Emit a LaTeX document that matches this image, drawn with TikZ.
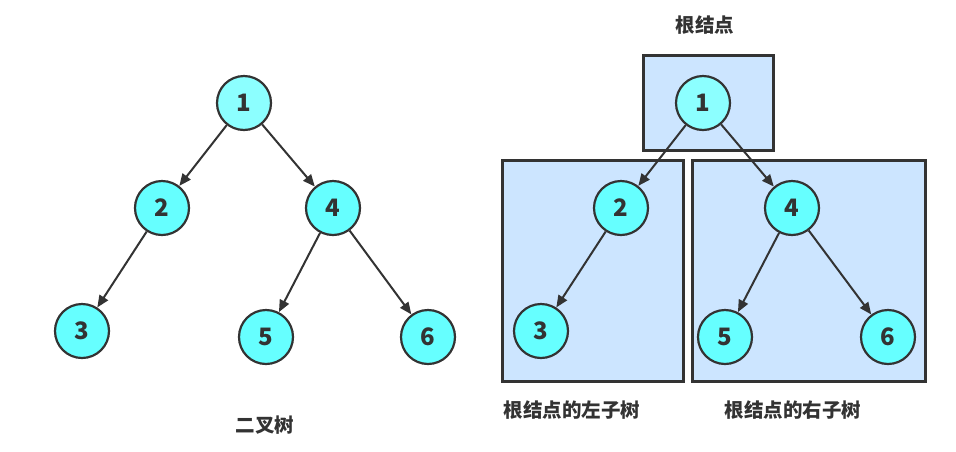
\documentclass[tikz,border=0pt]{standalone}
\usepackage{fontspec}
\newfontfamily\cjk{Noto Sans CJK SC}
\usetikzlibrary{arrows.meta}
\definecolor{nodeA}{HTML}{66FFFF}
\definecolor{nodeRoot}{HTML}{8CFFFF}
\definecolor{boxfill}{HTML}{CCE5FF}
\definecolor{ink}{HTML}{333333}
\tikzset{
  tnode/.style={circle, draw=ink, line width=2.2pt, fill=nodeA, minimum size=54pt, inner sep=0pt,
    font=\cjk\bfseries\fontsize{24}{24}\selectfont, text=ink},
  rootnode/.style={tnode, fill=nodeRoot},
  edge/.style={draw=ink, line width=2pt, -{Triangle[length=12pt,width=10pt]}},
  subbox/.style={draw=ink, line width=3pt, fill=boxfill},
  lbl/.style={font=\cjk\bfseries\fontsize{19.5}{20}\selectfont, text=ink, inner sep=0pt}
}
\begin{document}
\begin{tikzpicture}[x=1pt,y=-1pt]
\useasboundingbox (0,0) rectangle (956,451);
% left tree
\node[rootnode] (a1) at (244,103) {1};
\node[tnode] (a2) at (162,208) {2};
\node[tnode] (a4) at (333,208) {4};
\node[tnode] (a3) at (82,331) {3};
\node[tnode] (a5) at (266,337) {5};
\node[tnode] (a6) at (428,337) {6};
\draw[edge] (a1) -- (a2);
\draw[edge] (a1) -- (a4);
\draw[edge] (a2) -- (a3);
\draw[edge] (a4) -- (a5);
\draw[edge] (a4) -- (a6);
\node[lbl] (t1) at (265,425) {二叉树};
% right tree
\node[subbox, minimum width=130pt, minimum height=95pt, inner sep=0pt] (rb) at (708,102.5) {};
\node[subbox, minimum width=181pt, minimum height=221pt, inner sep=0pt] (lb) at (592.5,270.5) {};
\node[subbox, minimum width=233pt, minimum height=221pt, inner sep=0pt] (rrb) at (808.5,270.5) {};
\node[rootnode] (b1) at (703,103) {1};
\node[tnode] (b2) at (621,208) {2};
\node[tnode] (b4) at (792,208) {4};
\node[tnode] (b3) at (541,331) {3};
\node[tnode] (b5) at (725,337) {5};
\node[tnode] (b6) at (888,337) {6};
\draw[edge] (b1) -- (b2);
\draw[edge] (b1) -- (b4);
\draw[edge] (b2) -- (b3);
\draw[edge] (b4) -- (b5);
\draw[edge] (b4) -- (b6);
\node[lbl] (t2) at (705,25) {根结点};
\node[lbl] (t3) at (572,410) {根结点的左子树};
\node[lbl] (t4) at (793,410) {根结点的右子树};
\end{tikzpicture}
\end{document}
